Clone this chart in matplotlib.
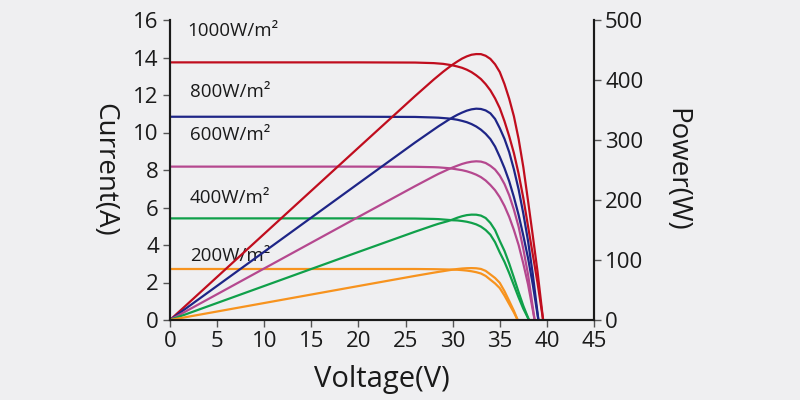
import matplotlib
matplotlib.use("Agg")
import matplotlib.pyplot as plt

plt.rcParams['font.family'] = ['Open Sans', 'DejaVu Sans']

# irradiance levels, colours
levels = ["1000W/m²", "800W/m²", "600W/m²", "400W/m²", "200W/m²"]
colors = ["#c00d1e", "#1e2587", "#b5488f", "#10a04a", "#f7931e"]

# voltage (V), current (A), power (W)
v_1000 = [0, 10, 20, 26, 28, 28.5, 29, 29.5, 30, 30.5, 31, 31.5, 32, 32.5, 33, 33.5, 34, 34.5,
          35, 35.5, 36, 36.5, 37, 37.5, 38, 38.5, 39, 39.6]
i_1000 = [13.74, 13.74, 13.74, 13.73, 13.70, 13.68, 13.66, 13.62, 13.58, 13.52, 13.45, 13.35, 13.22,
          13.05, 12.85, 12.58, 12.25, 11.82, 11.3, 10.6, 9.8, 8.9, 7.8, 6.5, 5.0, 3.5, 2.0, 0]
p_1000 = [0, 143.6, 287.2, 373.1, 400.9, 407.4, 413.9, 419.9, 425.7, 430.9, 435.7, 439.4, 442.1,
          443.2, 443.1, 440.4, 435.2, 426.2, 413.3, 393.2, 368.7, 339.5, 301.6, 254.7, 198.6,
          140.8, 81.5, 0]

v_800 = [0, 10, 20, 26, 28, 28.5, 29, 29.5, 30, 30.5, 31, 31.5, 32, 32.5, 33, 33.5, 34, 34.5,
         35, 35.5, 36, 36.5, 37, 37.5, 38, 38.5, 39.1]
i_800 = [10.84, 10.84, 10.84, 10.83, 10.80, 10.79, 10.77, 10.75, 10.72, 10.68, 10.62, 10.55, 10.45,
         10.32, 10.15, 9.93, 9.65, 9.25, 8.7, 8.1, 7.4, 6.55, 5.6, 4.5, 3.3, 1.9, 0]
p_800 = [0, 113.8, 227.6, 295.7, 317.5, 322.9, 327.9, 333.0, 337.7, 342.0, 345.7, 348.9, 351.1,
         352.2, 351.7, 349.3, 344.5, 335.1, 319.7, 301.9, 279.7, 251.0, 217.6, 177.2, 131.7,
         76.8, 0]

v_600 = [0, 10, 20, 26, 28, 28.5, 29, 29.5, 30, 30.5, 31, 31.5, 32, 32.5, 33, 33.5, 34, 34.5,
         35, 35.5, 36, 36.5, 37, 37.5, 38, 38.7]
i_600 = [8.18, 8.18, 8.18, 8.17, 8.15, 8.14, 8.12, 8.10, 8.07, 8.03, 7.99, 7.93, 7.85, 7.75, 7.62,
         7.44, 7.2, 6.92, 6.55, 6.08, 5.5, 4.8, 4.0, 3.0, 1.9, 0]
p_600 = [0, 85.9, 171.8, 223.0, 239.6, 243.6, 247.2, 250.9, 254.2, 257.2, 260.1, 262.3, 263.8,
         264.5, 264.0, 261.7, 257.0, 250.7, 240.7, 226.6, 207.9, 183.9, 155.4, 118.1, 75.8, 0]

v_400 = [0, 10, 20, 26, 28, 28.5, 29, 29.5, 30, 30.5, 31, 31.5, 32, 32.5, 33, 33.5, 34, 34.5,
         35, 35.5, 36, 36.5, 37, 37.5, 38.1]
i_400 = [5.42, 5.42, 5.42, 5.41, 5.39, 5.38, 5.36, 5.34, 5.32, 5.31, 5.28, 5.24, 5.18, 5.1, 4.98,
         4.8, 4.55, 4.15, 3.6, 3.1, 2.5, 1.85, 1.2, 0.6, 0]
p_400 = [0, 56.7, 113.4, 147.1, 157.9, 160.4, 162.6, 164.8, 167.5, 170.5, 173.0, 174.8, 175.6,
         175.5, 174.0, 170.0, 161.8, 149.8, 131.8, 115.1, 94.1, 70.6, 46.4, 23.5, 0]

v_200 = [0, 10, 20, 26, 28, 28.5, 29, 29.5, 30, 30.5, 31, 31.5, 32, 32.5, 33, 33.5, 34, 34.5,
         35, 35.5, 36, 36.5, 36.9]
i_200 = [2.72, 2.72, 2.72, 2.72, 2.71, 2.705, 2.70, 2.695, 2.69, 2.68, 2.66, 2.635, 2.6, 2.55,
         2.48, 2.35, 2.15, 1.95, 1.7, 1.3, 0.85, 0.4, 0]
p_200 = [0, 28.3, 56.6, 73.5, 78.9, 80.2, 81.4, 82.7, 83.9, 85.0, 85.8, 86.3, 86.5, 86.2, 85.1,
         81.9, 76.0, 70.0, 61.9, 48.0, 31.8, 15.2, 0]

# label anchor (left edge, centre) in data units
label_x = [1.8, 2.1, 2.1, 2.1, 2.1]
label_y = [15.4, 12.15, 9.85, 6.5, 3.4]

volts = [v_1000, v_800, v_600, v_400, v_200]
amps = [i_1000, i_800, i_600, i_400, i_200]
watts = [p_1000, p_800, p_600, p_400, p_200]

bg = "#efeff1"
fig = plt.figure(figsize=(8, 4), dpi=100, facecolor=bg)
ax = fig.add_axes([0.2125, 0.2, 0.53, 0.75])
ax.set_facecolor(bg)
ax2 = ax.twinx()

for v, i, p, c in zip(volts, amps, watts, colors):
    ax.plot(v, i, color=c, lw=1.6, solid_joinstyle='round')
    ax2.plot(v, p, color=c, lw=1.6, solid_joinstyle='round')

for t, x, y in zip(levels, label_x, label_y):
    ax.text(x, y, t, fontsize=13.5, va='center', ha='left', color='#1a1a1a')

ax.set_xlim(0, 45)
ax.set_ylim(0, 16)
ax2.set_ylim(0, 500)
ax.set_xticks(range(0, 46, 5))
ax.set_yticks(range(0, 17, 2))
ax2.set_yticks(range(0, 501, 100))

for a in (ax, ax2):
    a.spines['top'].set_visible(False)
    for s in ('left', 'right', 'bottom'):
        a.spines[s].set_linewidth(1.5)
        a.spines[s].set_color('#1a1a1a')
    a.tick_params(direction='out', length=5, width=1, labelsize=16,
                  colors='#555555', labelcolor='#1a1a1a', pad=3)

ax.set_xlabel("Voltage(V)", fontsize=21, color='#1a1a1a', labelpad=9)
ax.set_ylabel("Current(A)", fontsize=20, color='#1a1a1a', rotation=-90,
              va='center', labelpad=21)
ax2.set_ylabel("Power(W)", fontsize=20, color='#1a1a1a', rotation=-90,
               va='center', labelpad=24)

fig.savefig("out.png", dpi=100, facecolor=bg)
